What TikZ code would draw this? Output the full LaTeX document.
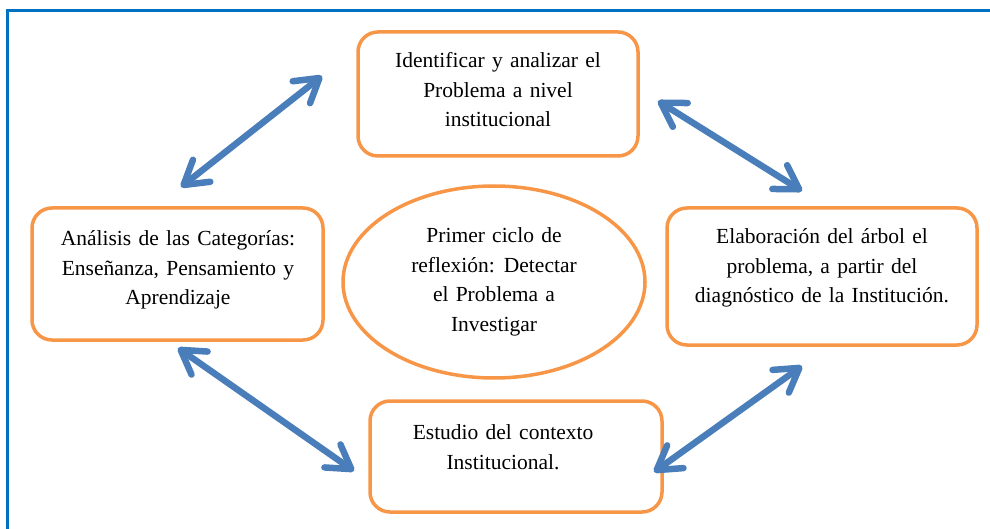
\documentclass[tikz,border=0pt]{standalone}
\usepackage{fontspec}
\setmainfont{Liberation Serif}
\newfontfamily\tnrfont[WordSpace={1.35,0.5,0.3}]{Liberation Serif}
\usetikzlibrary{arrows.meta,shapes.geometric}
\definecolor{frameblue}{RGB}{0,112,192}
\definecolor{boxorange}{RGB}{247,150,70}
\definecolor{arrowblue}{RGB}{74,126,187}
\tikzset{
  txt/.style={font=\tnrfont\fontsize{21.5}{29.5}\selectfont, align=center, inner sep=0pt},
  rbox/.style={draw=boxorange, line width=3.5pt, rounded corners=20pt},
  barbtip/.tip={Straight Barb[length=23pt,width=28pt,line cap=round,line join=round]},
  dblarrow/.style={draw=arrowblue, line width=6.5pt, {barbtip}-{barbtip}},
}
\begin{document}
\begin{tikzpicture}[x=1pt,y=-1pt]
\useasboundingbox (0,0) rectangle (990,529);
% frame
\draw[frameblue, line width=3pt] (7,540) -- (7,11) -- (995,11);
% boxes
\draw[rbox] (358,32) rectangle (638,156);
\draw[rbox] (32,208) rectangle (323,340);
\draw[rbox] (667,208) rectangle (977,345);
\draw[rbox] (370,401) rectangle (662,512);
\draw[draw=boxorange, line width=3.5pt] (494,282) ellipse [x radius=151, y radius=96];
% texts
\node[txt] (top) at (498,90) {Identificar y analizar el\\Problema a nivel\\institucional};
\node[txt] (left) at (178,270) {Análisis de las Categorías:\\Enseñanza, Pensamiento y\\Aprendizaje};
\node[txt] (center) at (494,282) {Primer ciclo de\\reflexión: Detectar\\el Problema a\\Investigar};
\node[txt] (right) at (822,268) {Elaboración del árbol el\\problema, a partir del\\diagnóstico de la Institución.};
\node[txt] (bottom) at (503,447) {Estudio del contexto\\Institucional.};
% arrow ends
\coordinate (a1) at (181,187);
\coordinate (a2) at (322,76);
\coordinate (b1) at (658,101);
\coordinate (b2) at (802,191);
\coordinate (c1) at (802,366);
\coordinate (c2) at (654,472);
\coordinate (d1) at (178,348);
\coordinate (d2) at (354,471);
\draw[dblarrow] (a1) -- (a2);
\draw[dblarrow] (b1) -- (b2);
\draw[dblarrow] (c1) -- (c2);
\draw[dblarrow] (d1) -- (d2);
\end{tikzpicture}
\end{document}
